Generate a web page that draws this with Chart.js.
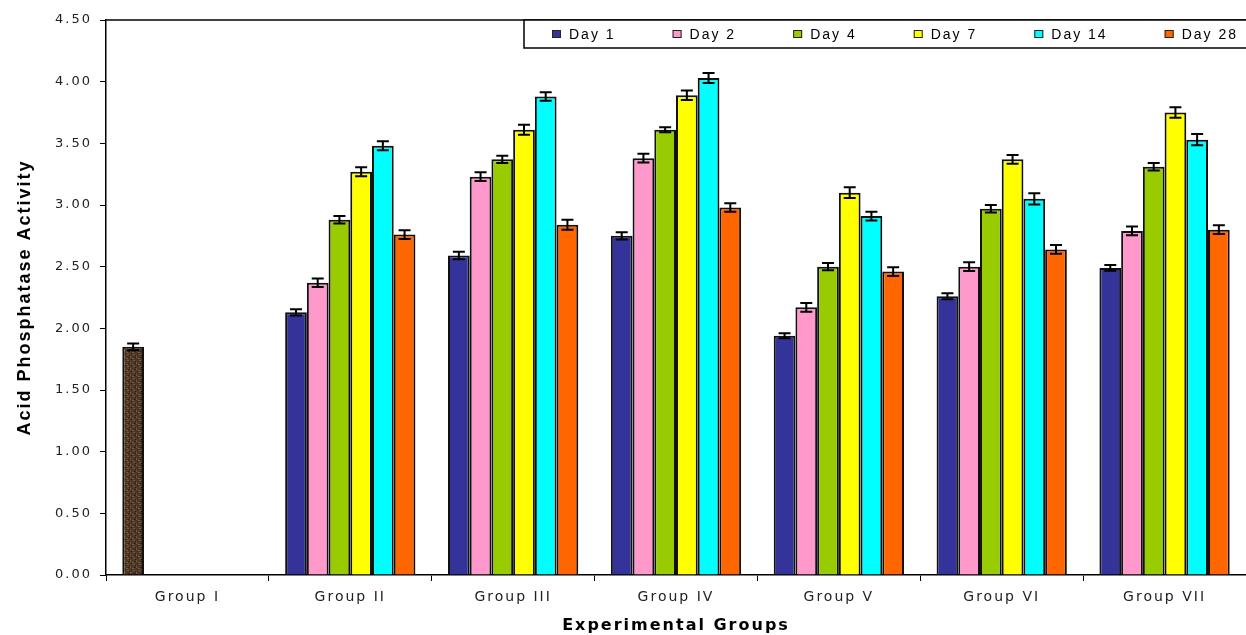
<!DOCTYPE html>
<html>
<head>
<meta charset="utf-8">
<script src="https://cdn.jsdelivr.net/npm/chart.js@4.4.0/dist/chart.umd.min.js"></script>
<style>
  html, body { margin: 0; padding: 0; background: #fff; }
</style>
</head>
<body>
<canvas id="chart" width="1246" height="635"></canvas>
<script>
// categories and series
const groups = ['Group I', 'Group II', 'Group III', 'Group IV', 'Group V', 'Group VI', 'Group VII'];
const seriesNames = ['Day 1', 'Day 2', 'Day 4', 'Day 7', 'Day 14', 'Day 28'];
const seriesColors = ['#333399', '#ff99cc', '#99cc00', '#ffff00', '#00ffff', '#ff6600'];

// values (Group I is the control, only one bar)
const day1  = [1.85, 2.13, 2.59, 2.75, 1.94, 2.26, 2.49];
const day2  = [null, 2.37, 3.23, 3.38, 2.17, 2.50, 2.79];
const day4  = [null, 2.88, 3.37, 3.61, 2.50, 2.97, 3.31];
const day7  = [null, 3.27, 3.61, 3.89, 3.10, 3.37, 3.75];
const day14 = [null, 3.48, 3.88, 4.03, 2.91, 3.05, 3.53];
const day28 = [null, 2.76, 2.84, 2.98, 2.46, 2.64, 2.80];

// error bar half heights
const err1  = [0.027, 0.025, 0.03, 0.03, 0.02, 0.024, 0.023];
const err2  = [0, 0.035, 0.035, 0.036, 0.035, 0.036, 0.036];
const err4  = [0, 0.03, 0.03, 0.02, 0.03, 0.03, 0.03];
const err7  = [0, 0.036, 0.04, 0.038, 0.043, 0.036, 0.043];
const err14 = [0, 0.036, 0.035, 0.04, 0.036, 0.045, 0.045];
const err28 = [0, 0.035, 0.04, 0.035, 0.036, 0.036, 0.036];

const yMin = 0, yMax = 4.5, yStep = 0.5;
const yTitle = 'Acid Phosphatase Activity';
const xTitle = 'Experimental Groups';

const seriesValues = [day1, day2, day4, day7, day14, day28];
const seriesErrors = [err1, err2, err4, err7, err14, err28];

// brownish texture for the control bar
function controlPattern() {
  const c = document.createElement('canvas');
  c.width = 6; c.height = 6;
  const g = c.getContext('2d');
  g.fillStyle = '#4f3725';
  g.fillRect(0, 0, 6, 6);
  g.fillStyle = '#735a42';
  g.fillRect(1, 0, 2, 1); g.fillRect(4, 2, 1, 2); g.fillRect(0, 4, 2, 1);
  g.fillStyle = '#34210f';
  g.fillRect(3, 1, 1, 1); g.fillRect(2, 3, 2, 1); g.fillRect(5, 5, 1, 1);
  return g.createPattern(c, 'repeat');
}

const ctx = document.getElementById('chart').getContext('2d');
const brown = controlPattern();

const datasets = seriesNames.map((name, i) => ({
  label: name,
  data: seriesValues[i],
  backgroundColor: i === 0 ? seriesValues[i].map((v, j) => j === 0 ? brown : seriesColors[i]) : seriesColors[i],
  borderColor: '#111',
  borderWidth: 2,
  barPercentage: 1.0,
  categoryPercentage: 0.8
}));

// the source picture is horizontally stretched, letter spacing imitates that
const spacing = {
  id: 'spacing',
  beforeLayout(chart) { chart.ctx.letterSpacing = '2px'; },
  beforeDraw(chart) { chart.ctx.letterSpacing = '2px'; }
};

const errorBars = {
  id: 'errorBars',
  afterDatasetsDraw(chart) {
    const c = chart.ctx, ys = chart.scales.y;
    c.save();
    c.strokeStyle = '#000';
    c.lineWidth = 2;
    chart.data.datasets.forEach((ds, i) => {
      const meta = chart.getDatasetMeta(i);
      meta.data.forEach((bar, j) => {
        const v = ds.data[j];
        if (v == null) return;
        const e = seriesErrors[i][j];
        const top = ys.getPixelForValue(v + e), bot = ys.getPixelForValue(v - e);
        c.beginPath();
        c.moveTo(bar.x, top); c.lineTo(bar.x, bot);
        c.moveTo(bar.x - 6, top); c.lineTo(bar.x + 6, top);
        c.moveTo(bar.x - 6, bot); c.lineTo(bar.x + 6, bot);
        c.stroke();
      });
    });
    c.restore();
  }
};

// plot top border + boxed legend in the top right
const frameAndLegend = {
  id: 'frameAndLegend',
  afterDraw(chart) {
    const c = chart.ctx, a = chart.chartArea;
    c.save();
    c.strokeStyle = '#000';
    c.lineWidth = 1.5;
    c.beginPath(); c.moveTo(a.left, a.top); c.lineTo(chart.width, a.top); c.stroke();

    const bx = 524, by = a.top, bh = 28;
    c.fillStyle = '#fff';
    c.fillRect(bx, by, chart.width - bx, bh);
    c.strokeRect(bx, by, chart.width - bx + 5, bh);

    c.font = '14px "Liberation Sans", Arial, sans-serif';
    c.letterSpacing = '2px';
    c.textBaseline = 'middle';
    c.textAlign = 'left';
    let x = 552;
    const cy = by + bh / 2;
    seriesNames.forEach((name, i) => {
      c.fillStyle = seriesColors[i];
      c.fillRect(x, cy - 4, 9, 8);
      c.lineWidth = 1;
      c.strokeStyle = '#222';
      c.strokeRect(x + 0.5, cy - 3.5, 8, 7);
      c.fillStyle = '#000';
      c.fillText(name, x + 17, cy + 1);
      x += 17 + c.measureText(name).width + 57;
    });
    c.restore();
  }
};

new Chart(ctx, {
  type: 'bar',
  data: { labels: groups, datasets },
  options: {
    responsive: false,
    animation: false,
    layout: { padding: { top: 20, right: -8, left: 0, bottom: 0 } },
    plugins: {
      legend: { display: false },
      tooltip: { enabled: false }
    },
    scales: {
      x: {
        grid: { display: true, drawOnChartArea: false, drawTicks: true, tickLength: 6, color: '#000', offset: true },
        border: { display: true, color: '#000', width: 1.5 },
        ticks: {
          color: '#222', autoSkip: false, maxRotation: 0, padding: 8,
          font: { family: '"DejaVu Sans", Verdana, sans-serif', size: 14 }
        },
        title: {
          display: true, text: xTitle, color: '#000',
          font: { family: '"DejaVu Sans", Verdana, sans-serif', size: 16, weight: 'bold' },
          padding: { top: 0, bottom: 0 }
        },
        afterFit(s) { s.height = 60; }
      },
      y: {
        min: yMin, max: yMax,
        grid: { display: true, drawOnChartArea: false, drawTicks: true, tickLength: 6, color: '#000' },
        border: { display: true, color: '#000', width: 1.5 },
        ticks: {
          stepSize: yStep, color: '#222', padding: 8,
          font: { family: '"DejaVu Sans", Verdana, sans-serif', size: 13 },
          callback: v => v.toFixed(2)
        },
        title: {
          display: true, text: yTitle, color: '#000',
          font: { family: '"Liberation Sans", Arial, sans-serif', size: 18, weight: 'bold' },
          padding: { top: 14, bottom: 0 }
        },
        afterFit(s) { s.width = 106; }
      }
    }
  },
  plugins: [spacing, errorBars, frameAndLegend]
});
</script>
</body>
</html>
